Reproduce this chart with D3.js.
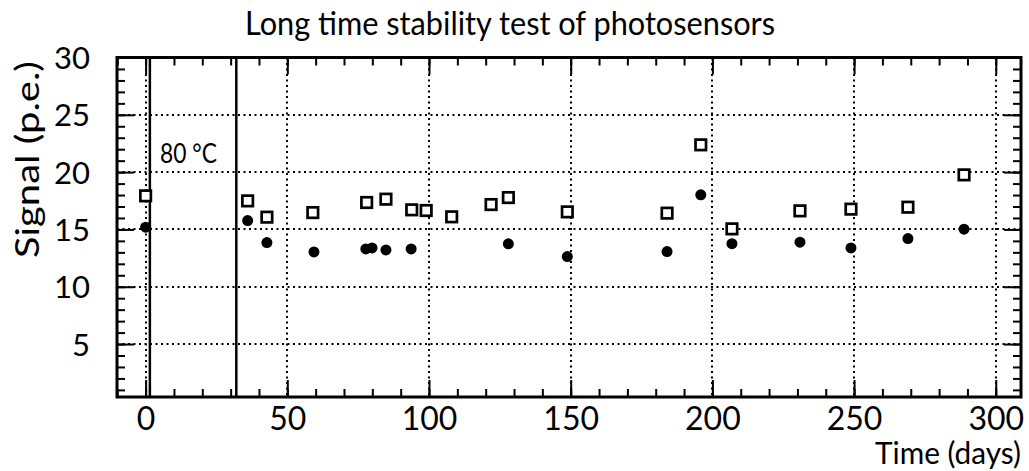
<!DOCTYPE html>
<html>
<head>
<meta charset="utf-8">
<script src="https://cdn.jsdelivr.net/npm/d3@7"></script>
<style>
  html, body { margin: 0; padding: 0; background: #fff; }
  svg { display: block; }
  text { font-family: Lato, "DejaVu Sans", sans-serif; fill: #000; }
</style>
</head>
<body>
<svg id="chart" width="1029" height="471"></svg>
<script>
// ---- data ----
const squareDays   = [0, 36.0, 42.8, 59.0, 78.0, 84.8, 93.9, 99.0, 108.0, 121.9, 128.0, 148.8, 184.0, 195.9, 206.9, 230.9, 248.9, 269.0, 288.8];
const squareSignal = [17.93, 17.49, 16.07, 16.47, 17.35, 17.64, 16.71, 16.65, 16.10, 17.17, 17.78, 16.53, 16.42, 22.38, 15.05, 16.62, 16.77, 16.94, 19.76];
const circleDays   = [0, 36.0, 42.8, 59.4, 77.7, 79.9, 84.8, 93.7, 128.0, 148.8, 184.0, 195.9, 206.9, 230.9, 248.9, 269.0, 288.8];
const circleSignal = [15.20, 15.77, 13.85, 13.04, 13.30, 13.39, 13.21, 13.30, 13.74, 12.63, 13.07, 18.02, 13.76, 13.89, 13.39, 14.20, 15.02];
const heatPeriod   = [1.5, 32];           // days bounding the 80 °C period
const xTicks       = [0, 50, 100, 150, 200, 250, 300];
const xMinorTicks  = d3.range(-10, 310, 10);
const yTicks       = [5, 10, 15, 20, 25, 30];
const yMinorTicks  = d3.range(1, 31, 1);
const titleText    = "Long time stability test of photosensors";
const xTitle       = "Time (days)";
const yTitle       = "Signal (p.e.)";
const heatLabel    = "80 °C";

// ---- layout ----
const L = 117, R = 1021, T = 57.5, B = 397;
const x = d3.scaleLinear().domain([-10.1, 308.9]).range([L, R]);
const y = d3.scaleLinear().domain([0.38, 30]).range([B, T]);
const snap = v => Math.round(v);

const svg = d3.select("#chart");

// grid (dotted)
const grid = svg.append("g").attr("stroke", "#000").attr("stroke-width", 2).attr("stroke-dasharray", "2,3.5");
grid.selectAll("line.gy").data(yTicks.filter(v => v < 30)).join("line")
  .attr("x1", L).attr("x2", R).attr("y1", d => snap(y(d))).attr("y2", d => snap(y(d)));
grid.selectAll("line.gx").data(xTicks).join("line")
  .attr("y1", T).attr("y2", B).attr("x1", d => snap(x(d))).attr("x2", d => snap(x(d)));

// axes helper
function styleAxis(g) {
  g.select(".domain").remove();
  g.selectAll(".tick line").attr("stroke", "#000").attr("stroke-width", 2);
}
const MAJ = 17, MIN = 8;
// left
svg.append("g").attr("transform", `translate(${L},0)`)
  .call(d3.axisLeft(y).tickValues(yMinorTicks).tickSize(-MIN).tickFormat(""))
  .call(styleAxis);
const yl = svg.append("g").attr("transform", `translate(${L},0)`)
  .call(d3.axisLeft(y).tickValues(yTicks).tickSize(-MAJ).tickPadding(27).tickFormat(d3.format("d")))
  .call(styleAxis);
yl.selectAll(".tick text").attr("font-size", 31).attr("font-family", "Lato, 'DejaVu Sans', sans-serif").attr("dy", "0.36em");
// right
svg.append("g").attr("transform", `translate(${R},0)`)
  .call(d3.axisRight(y).tickValues(yMinorTicks).tickSize(-MIN).tickFormat(""))
  .call(styleAxis);
svg.append("g").attr("transform", `translate(${R},0)`)
  .call(d3.axisRight(y).tickValues(yTicks).tickSize(-MAJ).tickFormat(""))
  .call(styleAxis);
// bottom
svg.append("g").attr("transform", `translate(0,${B})`)
  .call(d3.axisBottom(x).tickValues(xMinorTicks).tickSize(-MIN).tickFormat(""))
  .call(styleAxis);
const xb = svg.append("g").attr("transform", `translate(0,${B})`)
  .call(d3.axisBottom(x).tickValues(xTicks).tickSize(-MAJ).tickFormat(d3.format("d")))
  .call(styleAxis);
xb.selectAll(".tick text").attr("font-size", 32).attr("font-family", "Lato, 'DejaVu Sans', sans-serif").attr("y", 33).attr("dy", 0);
// top
svg.append("g").attr("transform", `translate(0,${T})`)
  .call(d3.axisTop(x).tickValues(xMinorTicks).tickSize(-MIN).tickFormat(""))
  .call(styleAxis);
svg.append("g").attr("transform", `translate(0,${T})`)
  .call(d3.axisTop(x).tickValues(xTicks).tickSize(-MAJ).tickFormat(""))
  .call(styleAxis);

// heat-period lines
svg.append("g").selectAll("line").data(heatPeriod).join("line")
  .attr("x1", d => x(d)).attr("x2", d => x(d)).attr("y1", T).attr("y2", B)
  .attr("stroke", "#000").attr("stroke-width", 2.5);

// frame
svg.append("rect").attr("x", L).attr("y", T).attr("width", R - L).attr("height", B - T)
  .attr("fill", "none").attr("stroke", "#000").attr("stroke-width", 3);

// markers
const sq = 10.5;
svg.append("g").selectAll("rect").data(squareDays.map((d, i) => [d, squareSignal[i]])).join("rect")
  .attr("x", d => x(d[0]) - sq / 2).attr("y", d => y(d[1]) - sq / 2)
  .attr("width", sq).attr("height", sq)
  .attr("fill", "#fff").attr("stroke", "#000").attr("stroke-width", 2.7);
svg.append("g").selectAll("circle").data(circleDays.map((d, i) => [d, circleSignal[i]])).join("circle")
  .attr("cx", d => x(d[0])).attr("cy", d => y(d[1])).attr("r", 5.5).attr("fill", "#000");

// texts (font size from the reference cap height, width from its extent)
function label(sel, width) {
  return sel.attr("textLength", width).attr("lengthAdjust", "spacingAndGlyphs");
}
label(svg.append("text").attr("x", 245).attr("y", 35).attr("font-size", 32.5).text(titleText), 530);
label(svg.append("text").attr("x", 1021).attr("y", 464).attr("font-size", 30.5).attr("text-anchor", "end").text(xTitle), 146);
label(svg.append("text").attr("transform", "translate(39,258) rotate(-90)").attr("font-size", 32).text(yTitle), 197);
label(svg.append("text").attr("x", 160).attr("y", 163).attr("font-size", 26).text(heatLabel), 57);
</script>
</body>
</html>
